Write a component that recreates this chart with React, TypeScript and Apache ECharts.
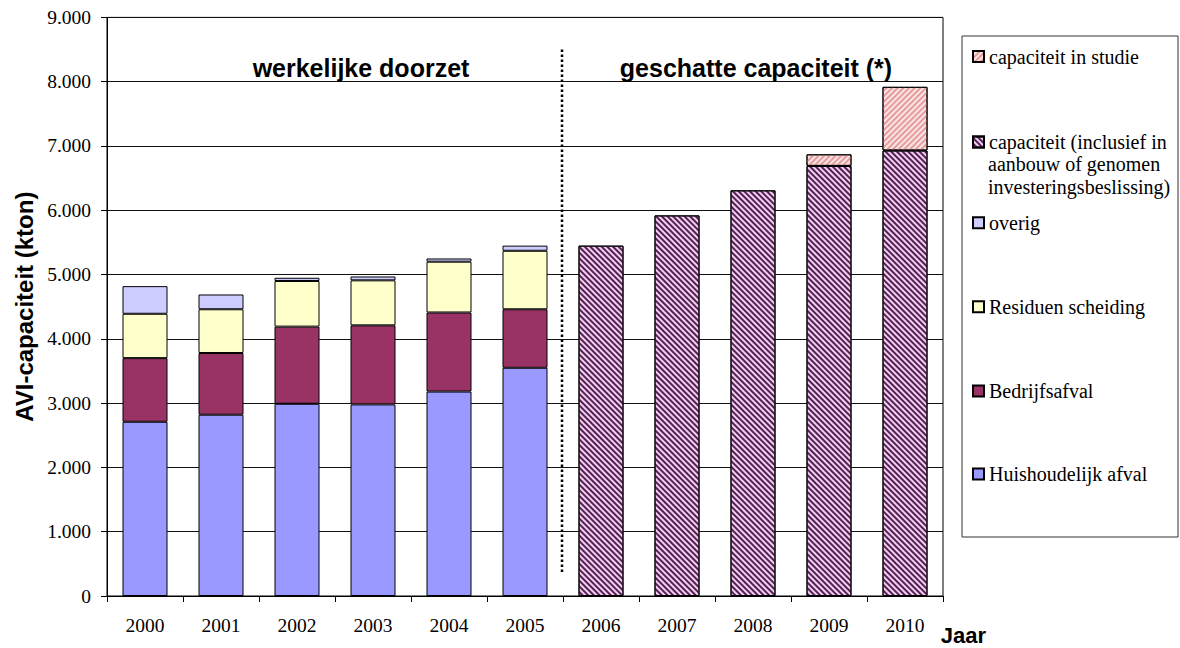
import React, { useEffect, useRef } from 'react';
import * as echarts from 'echarts';

const years = ['2000', '2001', '2002', '2003', '2004', '2005', '2006', '2007', '2008', '2009', '2010'];
const huishoudelijk = [2710, 2820, 2990, 2980, 3180, 3550, null, null, null, null, null];
const bedrijfsafval = [990, 960, 1200, 1230, 1230, 910, null, null, null, null, null];
const residuen = [690, 680, 710, 700, 790, 910, null, null, null, null, null];
const overig = [430, 230, 50, 60, 50, 80, null, null, null, null, null];
const capaciteit = [null, null, null, null, null, null, 5450, 5920, 6310, 6690, 6930];
const studie = [null, null, null, null, null, null, null, null, null, 180, 990];

const nameHuis = 'Huishoudelijk afval';
const nameBedrijf = 'Bedrijfsafval';
const nameResid = 'Residuen scheiding';
const nameOverig = 'overig';
const nameCap = 'capaciteit (inclusief in aanbouw of genomen investeringsbeslissing)';
const nameStudie = 'capaciteit in studie';
const capLines = ['capaciteit (inclusief in', 'aanbouw of genomen', 'investeringsbeslissing)'];

const legendOrder = [nameStudie, nameCap, nameOverig, nameResid, nameBedrijf, nameHuis];
const legendCenters = [56.5, 142, 222.7, 306.7, 391, 474];

const serif = 'Liberation Serif';
const sans = 'Liberation Sans';

const fmt = (v: number) => String(v).replace(/\B(?=(\d{3})+(?!\d))/g, '.');

export default function App() {
  const ref = useRef<HTMLDivElement>(null);
  useEffect(() => {
    if (!ref.current) return;
    const chart = echarts.init(ref.current, null, { renderer: 'svg' });
    const border = { borderColor: '#000', borderWidth: 1 };
    const bar = (name: string, data: (number | null)[], itemStyle: any) => ({
      name,
      type: 'bar',
      stack: 'total',
      data,
      barWidth: 45,
      itemStyle: { ...border, ...itemStyle },
    });
    chart.setOption({
      animation: false,
      backgroundColor: '#fff',
      grid: { left: 107, right: 237, top: 17.4, bottom: 52, show: true, borderColor: '#000', borderWidth: 1, backgroundColor: 'transparent' },
      legend: legendOrder.map((n, i) => ({
        data: [n],
        left: 972,
        top: legendCenters[i] - 10,
        padding: 0,
        icon: 'rect',
        itemWidth: 11,
        itemHeight: 11,
        selectedMode: false,
        formatter: (name: string) => (name === nameCap ? capLines[0] : name),
        textStyle: { fontFamily: serif, fontSize: 20, color: '#000' },
      })),
      xAxis: {
        type: 'category',
        data: years,
        axisLine: { lineStyle: { color: '#000', width: 1 } },
        axisTick: { show: true, length: 6, lineStyle: { color: '#000' } },
        axisLabel: { fontFamily: serif, fontSize: 19.5, color: '#000', margin: 19 },
        splitLine: { show: false },
      },
      yAxis: {
        type: 'value',
        min: 0,
        max: 9000,
        interval: 1000,
        name: 'AVI-capaciteit (kton)',
        nameLocation: 'middle',
        nameRotate: 90,
        nameGap: 66,
        nameTextStyle: { fontFamily: sans, fontWeight: 'bold', fontSize: 24, color: '#000' },
        axisLine: { show: true, lineStyle: { color: '#000', width: 1 } },
        axisTick: { show: true, length: 6, lineStyle: { color: '#000' } },
        axisLabel: { fontFamily: serif, fontSize: 19.5, color: '#000', margin: 16, formatter: (v: number) => fmt(v) },
        splitLine: { show: true, lineStyle: { color: '#111', width: 1 } },
      },
      series: [
        bar(nameHuis, huishoudelijk, { color: '#9999FF' }),
        bar(nameBedrijf, bedrijfsafval, { color: '#993366' }),
        bar(nameResid, residuen, { color: '#FFFFCC' }),
        bar(nameOverig, overig, { color: '#CCCCFF' }),
        bar(nameCap, capaciteit, {
          color: '#efd3ee',
          decal: { symbol: 'rect', symbolSize: 1, dashArrayX: [1, 0], dashArrayY: [2, 2], rotation: Math.PI / 4, color: '#561f55' },
        }),
        bar(nameStudie, studie, {
          color: '#fbe4e4',
          decal: { symbol: 'rect', symbolSize: 1, dashArrayX: [1, 0], dashArrayY: [2, 2], rotation: -Math.PI / 4, color: '#e49c9c' },
        }),
      ],
    });

    const p5 = chart.convertToPixel({ xAxisIndex: 0 }, '2005') as number;
    const p6 = chart.convertToPixel({ xAxisIndex: 0 }, '2006') as number;
    const sepX = Math.round((p5 + p6) / 2) - 1;
    const yTop = chart.convertToPixel({ yAxisIndex: 0 }, 8500) as number;
    const yBot = chart.convertToPixel({ yAxisIndex: 0 }, 370) as number;

    chart.setOption({
      graphic: [
        {
          type: 'line',
          shape: { x1: sepX, y1: yTop, x2: sepX, y2: yBot },
          style: { stroke: '#000', lineWidth: 2.5, lineDash: [2.5, 2.5] },
          z: 10,
        },
        {
          type: 'text',
          x: 361,
          y: 68,
          style: { text: 'werkelijke doorzet', font: `bold 25px ${sans}`, fill: '#000', textAlign: 'center', textVerticalAlign: 'middle' },
        },
        {
          type: 'text',
          x: 756,
          y: 68,
          style: { text: 'geschatte capaciteit (*)', font: `bold 25px ${sans}`, fill: '#000', textAlign: 'center', textVerticalAlign: 'middle' },
        },
        {
          type: 'text',
          x: 963.5,
          y: 635,
          style: { text: 'Jaar', font: `bold 22px ${sans}`, fill: '#000', textAlign: 'center', textVerticalAlign: 'middle' },
        },
        {
          type: 'rect',
          shape: { x: 962, y: 36, width: 216, height: 501 },
          style: { fill: 'none', stroke: '#333', lineWidth: 1 },
          z: -1,
        },
        {
          type: 'text',
          x: 988,
          y: 164,
          style: { text: capLines[1], font: `20px ${serif}`, fill: '#000', textAlign: 'left', textVerticalAlign: 'middle' },
        },
        {
          type: 'text',
          x: 988,
          y: 186.5,
          style: { text: capLines[2], font: `20px ${serif}`, fill: '#000', textAlign: 'left', textVerticalAlign: 'middle' },
        },
      ],
    });

    return () => chart.dispose();
  }, []);
  return <div ref={ref} style={{ position: 'fixed', left: 0, top: 0, width: 1180, height: 648 }} />;
}
